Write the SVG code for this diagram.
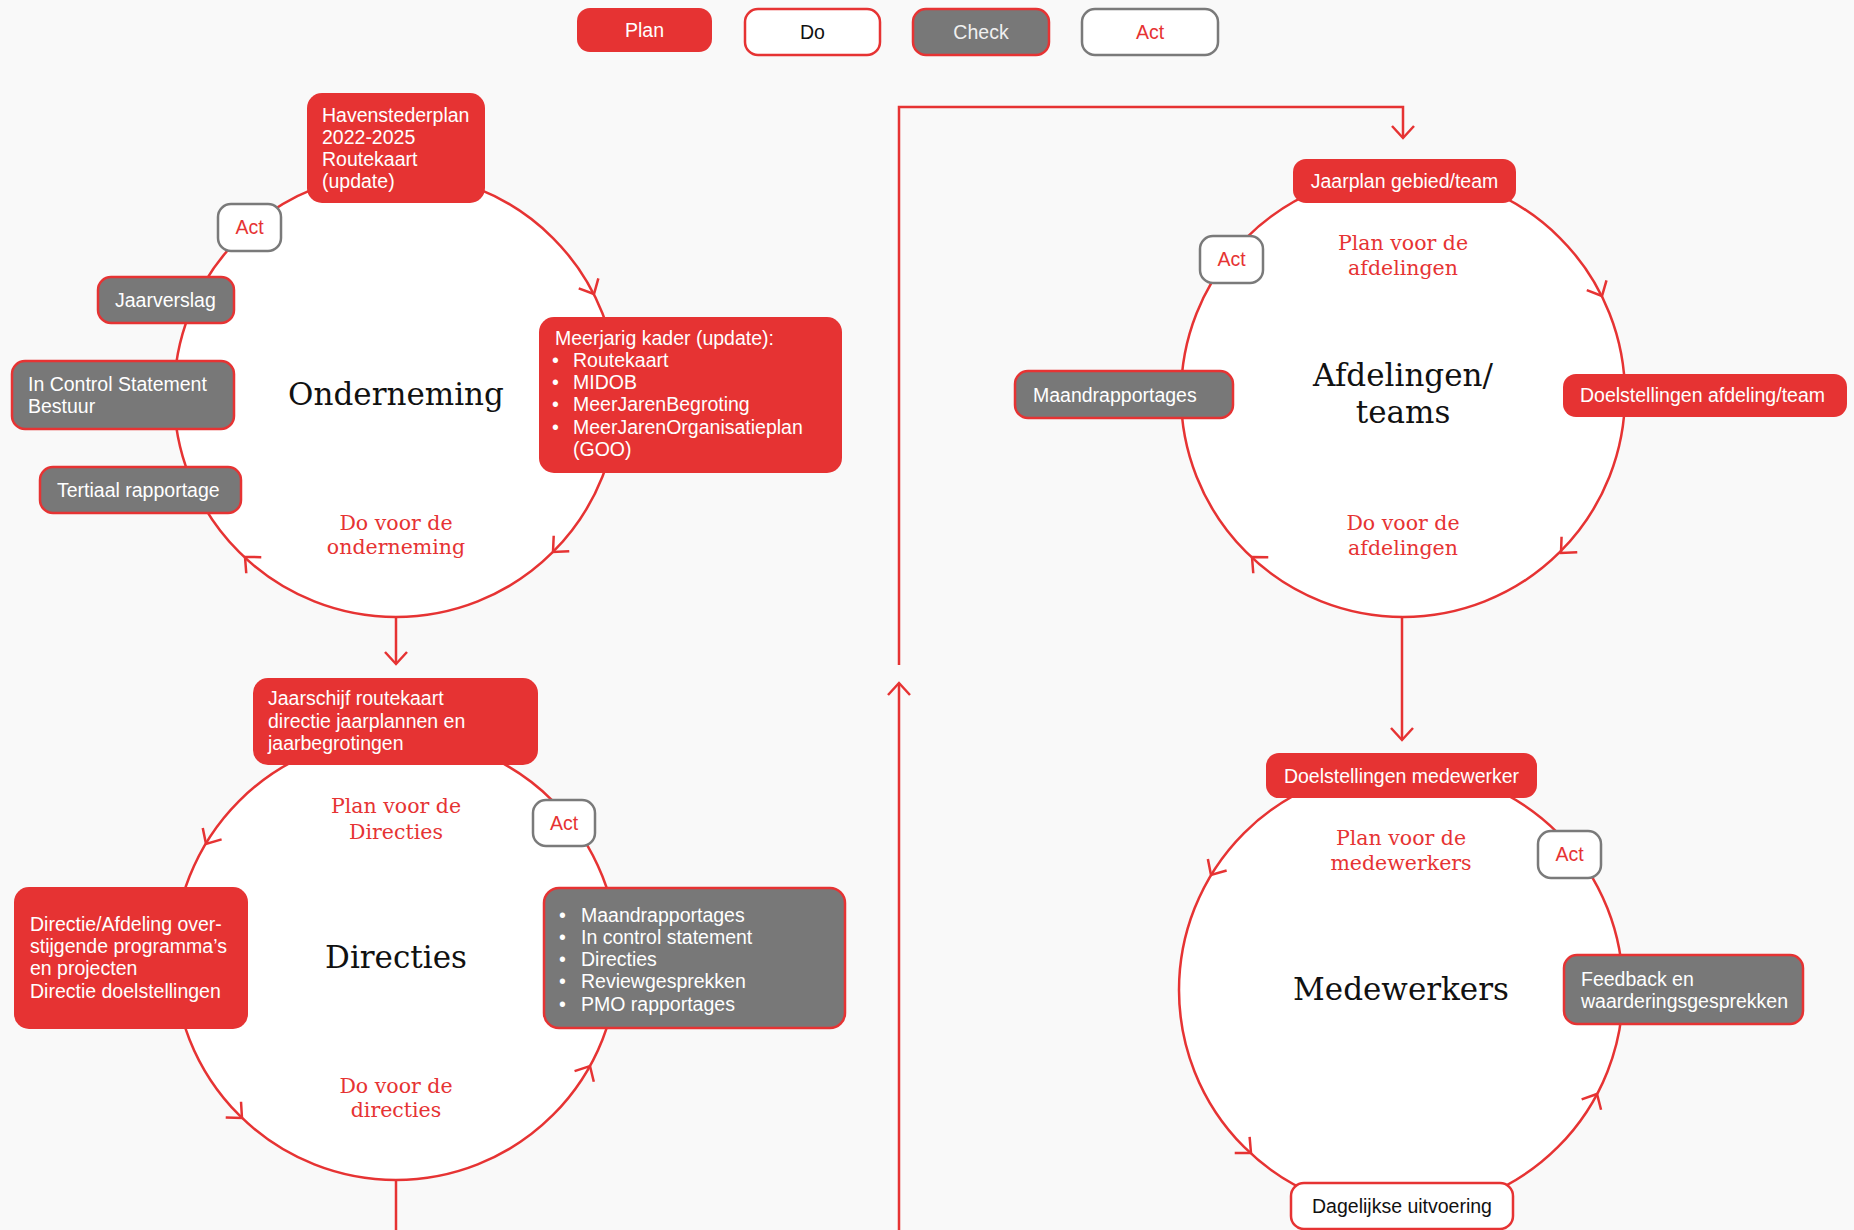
<svg xmlns="http://www.w3.org/2000/svg" width="1854" height="1230" viewBox="0 0 1854 1230">
<defs>
<style>
.bg{fill:#F9F9F9}
.ring{fill:#fff;stroke:#E63333;stroke-width:2.5}
.ln{fill:none;stroke:#E63333;stroke-width:2.5}
.chev{fill:none;stroke:#E63333;stroke-width:2.5}
.red{fill:#E63333}
.gray{fill:#787878;stroke:#E63333;stroke-width:2.5}
.act{fill:#fff;stroke:#7A7A7A;stroke-width:2.5}
.do{fill:#fff;stroke:#E63333;stroke-width:2.5}
.t{font-family:"Liberation Sans",Arial,sans-serif;font-size:19.5px}
.w{fill:#fff}
.lw{fill:#F0F0F0}
.tr{fill:#E63333}
.k{fill:#111}
.c{text-anchor:middle}
.title{font-family:"DejaVu Serif","Liberation Serif",serif;font-size:31px;fill:#111;text-anchor:middle}
.phase{font-family:"DejaVu Serif","Liberation Serif",serif;font-size:20.5px;fill:#E63333;text-anchor:middle}
</style>
<path id="chev" class="chev" d="M-12,-11 L0,0 L-12,11"/>
</defs>
<rect class="bg" x="0" y="0" width="1854" height="1230"/>

<g id="legend">
  <g id="legend-plan"><rect class="red" x="577" y="8" width="135" height="44" rx="13"/><text class="t w c" x="644.5" y="37">Plan</text></g>
  <g id="legend-do"><rect class="do" x="745" y="9" width="135" height="46" rx="13"/><text class="t k c" x="812.5" y="39">Do</text></g>
  <g id="legend-check"><rect class="gray" x="913" y="9" width="136" height="46" rx="13"/><text class="t lw c" x="981" y="39">Check</text></g>
  <g id="legend-act"><rect class="act" x="1082" y="9" width="136" height="46" rx="13"/><text class="t tr c" x="1150" y="39">Act</text></g>
</g>

<g id="connectors">
  <line class="ln" x1="396" y1="617" x2="396" y2="664"/>
  <use href="#chev" transform="translate(396,664) rotate(90)"/>
  <line class="ln" x1="396" y1="1180" x2="396" y2="1230"/>
  <line class="ln" x1="899" y1="1230" x2="899" y2="683"/>
  <use href="#chev" transform="translate(899,683) rotate(-90)"/>
  <polyline class="ln" points="899,665 899,107 1403,107 1403,138"/>
  <use href="#chev" transform="translate(1403,138) rotate(90)"/>
  <line class="ln" x1="1402" y1="617" x2="1402" y2="740"/>
  <use href="#chev" transform="translate(1402,740) rotate(90)"/>
</g>

<g id="cycle-onderneming">
  <circle class="ring" cx="396" cy="395" r="222"/>
  <use href="#chev" transform="translate(594,294) rotate(63)"/>
  <use href="#chev" transform="translate(553,552) rotate(135)"/>
  <use href="#chev" transform="translate(245,557) rotate(223)"/>
  <text class="title" x="396" y="405">Onderneming</text>
  <text class="phase" x="396" y="530">Do voor de</text>
  <text class="phase" x="396" y="554">onderneming</text>
</g>
<g id="node-havenstederplan">
  <rect class="red" x="307" y="93" width="178" height="110" rx="15"/>
  <text class="t w" x="322" y="122">Havenstederplan</text>
  <text class="t w" x="322" y="144">2022-2025</text>
  <text class="t w" x="322" y="166">Routekaart</text>
  <text class="t w" x="322" y="188">(update)</text>
</g>
<g id="node-act-onderneming">
  <rect class="act" x="218" y="204" width="63" height="47" rx="13"/>
  <text class="t tr c" x="249.5" y="234">Act</text>
</g>
<g id="node-jaarverslag">
  <rect class="gray" x="98" y="277" width="136" height="46" rx="13"/>
  <text class="t w" x="115" y="307">Jaarverslag</text>
</g>
<g id="node-incontrol-bestuur">
  <rect class="gray" x="12" y="361" width="222" height="68" rx="13"/>
  <text class="t w" x="28" y="391">In Control Statement</text>
  <text class="t w" x="28" y="413">Bestuur</text>
</g>
<g id="node-tertiaal">
  <rect class="gray" x="40" y="467" width="201" height="46" rx="13"/>
  <text class="t w" x="57" y="497">Tertiaal rapportage</text>
</g>
<g id="node-meerjarig">
  <rect class="red" x="539" y="317" width="303" height="156" rx="15"/>
  <text class="t w" x="555" y="345">Meerjarig kader (update):</text>
  <text class="t w" x="552" y="367">•</text><text class="t w" x="573" y="367">Routekaart</text>
  <text class="t w" x="552" y="389">•</text><text class="t w" x="573" y="389">MIDOB</text>
  <text class="t w" x="552" y="411">•</text><text class="t w" x="573" y="411">MeerJarenBegroting</text>
  <text class="t w" x="552" y="434">•</text><text class="t w" x="573" y="434">MeerJarenOrganisatieplan</text>
  <text class="t w" x="573" y="456">(GOO)</text>
</g>

<g id="cycle-directies">
  <circle class="ring" cx="396" cy="958" r="222"/>
  <use href="#chev" transform="translate(206,844) rotate(121)"/>
  <use href="#chev" transform="translate(242,1118) rotate(44)"/>
  <use href="#chev" transform="translate(590,1066) rotate(-61)"/>
  <text class="title" x="396" y="968">Directies</text>
  <text class="phase" x="396" y="813">Plan voor de</text>
  <text class="phase" x="396" y="839">Directies</text>
  <text class="phase" x="396" y="1093">Do voor de</text>
  <text class="phase" x="396" y="1117">directies</text>
</g>
<g id="node-jaarschijf">
  <rect class="red" x="253" y="678" width="285" height="87" rx="15"/>
  <text class="t w" x="268" y="705">Jaarschijf routekaart</text>
  <text class="t w" x="268" y="728">directie jaarplannen en</text>
  <text class="t w" x="268" y="750">jaarbegrotingen</text>
</g>
<g id="node-act-directies">
  <rect class="act" x="533" y="800" width="62" height="46" rx="13"/>
  <text class="t tr c" x="564" y="830">Act</text>
</g>
<g id="node-directie-afdeling">
  <rect class="red" x="14" y="887" width="234" height="142" rx="15"/>
  <text class="t w" x="30" y="931">Directie/Afdeling over-</text>
  <text class="t w" x="30" y="953">stijgende programma’s</text>
  <text class="t w" x="30" y="975">en projecten</text>
  <text class="t w" x="30" y="998">Directie doelstellingen</text>
</g>
<g id="node-rapportages-directies">
  <rect class="gray" x="544" y="888" width="301" height="140" rx="15"/>
  <text class="t w" x="559" y="922">•</text><text class="t w" x="581" y="922">Maandrapportages</text>
  <text class="t w" x="559" y="944">•</text><text class="t w" x="581" y="944">In control statement</text>
  <text class="t w" x="559" y="966">•</text><text class="t w" x="581" y="966">Directies</text>
  <text class="t w" x="559" y="988">•</text><text class="t w" x="581" y="988">Reviewgesprekken</text>
  <text class="t w" x="559" y="1011">•</text><text class="t w" x="581" y="1011">PMO rapportages</text>
</g>

<g id="cycle-afdelingen">
  <circle class="ring" cx="1403" cy="395" r="222"/>
  <use href="#chev" transform="translate(1602,296) rotate(63.5)"/>
  <use href="#chev" transform="translate(1561,553) rotate(134.5)"/>
  <use href="#chev" transform="translate(1252,557) rotate(223)"/>
  <text class="title" x="1403" y="386">Afdelingen/</text>
  <text class="title" x="1403" y="423">teams</text>
  <text class="phase" x="1403" y="250">Plan voor de</text>
  <text class="phase" x="1403" y="275">afdelingen</text>
  <text class="phase" x="1403" y="530">Do voor de</text>
  <text class="phase" x="1403" y="555">afdelingen</text>
</g>
<g id="node-jaarplan">
  <rect class="red" x="1293" y="159" width="223" height="44" rx="13"/>
  <text class="t w c" x="1404.5" y="188">Jaarplan gebied/team</text>
</g>
<g id="node-act-afdelingen">
  <rect class="act" x="1200" y="236" width="63" height="47" rx="13"/>
  <text class="t tr c" x="1231.5" y="266">Act</text>
</g>
<g id="node-maandrapportages-afdelingen">
  <rect class="gray" x="1015" y="371" width="218" height="47" rx="13"/>
  <text class="t w" x="1033" y="402">Maandrapportages</text>
</g>
<g id="node-doelstellingen-afdeling">
  <rect class="red" x="1563" y="374" width="284" height="43" rx="13"/>
  <text class="t w" x="1580" y="402">Doelstellingen afdeling/team</text>
</g>

<g id="cycle-medewerkers">
  <circle class="ring" cx="1401" cy="990" r="222"/>
  <use href="#chev" transform="translate(1211,875) rotate(121.4)"/>
  <use href="#chev" transform="translate(1251,1153) rotate(42.6)"/>
  <use href="#chev" transform="translate(1597,1094) rotate(-62)"/>
  <text class="title" x="1401" y="1000">Medewerkers</text>
  <text class="phase" x="1401" y="845">Plan voor de</text>
  <text class="phase" x="1401" y="870">medewerkers</text>
</g>
<g id="node-doelstellingen-medewerker">
  <rect class="red" x="1266" y="753" width="271" height="45" rx="13"/>
  <text class="t w c" x="1401.5" y="783">Doelstellingen medewerker</text>
</g>
<g id="node-act-medewerkers">
  <rect class="act" x="1538" y="831" width="63" height="47" rx="13"/>
  <text class="t tr c" x="1569.5" y="861">Act</text>
</g>
<g id="node-feedback">
  <rect class="gray" x="1564" y="955" width="239" height="69" rx="13"/>
  <text class="t w" x="1581" y="986">Feedback en</text>
  <text class="t w" x="1581" y="1008">waarderingsgesprekken</text>
</g>
<g id="node-dagelijkse">
  <rect class="do" x="1291" y="1183" width="222" height="46" rx="13"/>
  <text class="t k c" x="1402" y="1213">Dagelijkse uitvoering</text>
</g>
</svg>
